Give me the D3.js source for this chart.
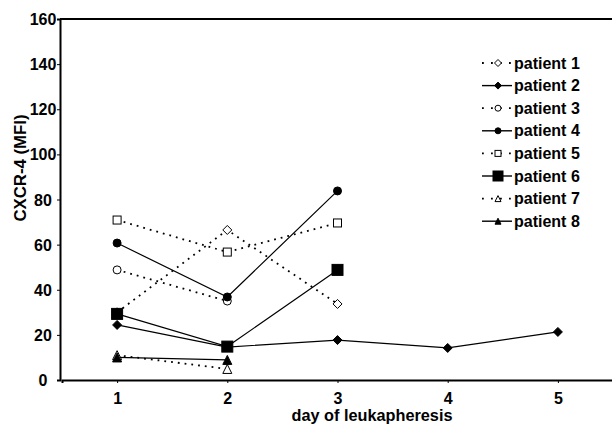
<!DOCTYPE html>
<html>
<head>
<meta charset="utf-8">
<script src="https://cdn.jsdelivr.net/npm/d3@7"></script>
<style>
  body { margin: 0; background: #fff; }
  text { font-family: "Liberation Sans", Arial, sans-serif; font-weight: bold; fill: #000; }
</style>
</head>
<body>
<div id="chart"></div>
<script>
// day of leukapheresis values per patient
var days = [1, 2, 3, 4, 5];
var patientNames = ["patient 1", "patient 2", "patient 3", "patient 4",
                    "patient 5", "patient 6", "patient 7", "patient 8"];
var patient1 = [30, 66.5, 33.7];
var patient2 = [24.4, 14.6, 17.7, 14.2, 21.3];
var patient3 = [48.8, 35];
var patient4 = [60.7, 36.8, 83.8];
var patient5 = [70.9, 56.7, 69.6];
var patient6 = [29.3, 14.8, 48.8];
var patient7 = [11, 4.9];
var patient8 = [10, 8.9];
var yTicks = [0, 20, 40, 60, 80, 100, 120, 140, 160];

// marker style per patient: shape, filled, dotted line
var styles = [
    {shape: "diamond", filled: false, dotted: true, size: 8},
    {shape: "diamond", filled: true, dotted: false, size: 8},
    {shape: "circle", filled: false, dotted: true, size: 8},
    {shape: "circle", filled: true, dotted: false, size: 8},
    {shape: "square", filled: false, dotted: true, size: 8},
    {shape: "square", filled: true, dotted: false, size: 11},
    {shape: "triangle", filled: false, dotted: true, size: 9},
    {shape: "triangle", filled: true, dotted: false, size: 9}
];

var series = [patient1, patient2, patient3, patient4, patient5, patient6, patient7, patient8];

var width = 612, height = 426;
var svg = d3.select("#chart").append("svg")
    .attr("width", width)
    .attr("height", height);

var x = d3.scaleLinear().domain([0.5, 5.5]).range([62, 613]);
var y = d3.scaleLinear().domain([0, 160]).range([380, 19]);

// axes
var yAxis = svg.append("g")
    .attr("transform", "translate(60,0)")
    .call(d3.axisLeft(y).tickValues(yTicks).tickFormat(d3.format("d")).tickSize(3).tickPadding(3));
var xAxis = svg.append("g")
    .attr("transform", "translate(0,380)")
    .call(d3.axisBottom(x).tickValues(days).tickFormat(d3.format("d")).tickSize(3).tickPadding(10));

[yAxis, xAxis].forEach(function(ax) {
    ax.select(".domain").attr("stroke", "#000").attr("stroke-width", 2);
    ax.selectAll(".tick line").attr("stroke", "#000").attr("stroke-width", 1);
    ax.selectAll(".tick text")
        .style("font-family", "'Liberation Sans', Arial, sans-serif")
        .style("font-weight", "bold")
        .style("font-size", "16px")
        .attr("fill", "#000");
});
// y labels are centred in their column
yAxis.selectAll(".tick text")
    .attr("x", -17)
    .attr("text-anchor", "middle")
    .attr("dy", "0.35em");

// top border
svg.append("line")
    .attr("x1", 60).attr("x2", 612)
    .attr("y1", 19).attr("y2", 19)
    .attr("stroke", "#000").attr("stroke-width", 2);

// axis titles
svg.append("text")
    .attr("transform", "translate(26,168) rotate(-90)")
    .attr("text-anchor", "middle")
    .style("font-size", "16px")
    .attr("textLength", 107)
    .attr("lengthAdjust", "spacingAndGlyphs")
    .text("CXCR-4 (MFI)");

svg.append("text")
    .attr("x", 372).attr("y", 421)
    .attr("text-anchor", "middle")
    .style("font-size", "16px")
    .attr("textLength", 161)
    .attr("lengthAdjust", "spacingAndGlyphs")
    .text("day of leukapheresis");

function drawMarker(g, st, cx, cy) {
    var fill = st.filled ? "#000" : "#fff";
    var s = st.size;
    if (st.shape === "circle") {
        g.append("circle").attr("cx", cx).attr("cy", cy).attr("r", s / 2)
            .attr("fill", fill).attr("stroke", "#000").attr("stroke-width", 1);
    } else if (st.shape === "square") {
        g.append("rect").attr("x", cx - s / 2).attr("y", cy - s / 2)
            .attr("width", s).attr("height", s)
            .attr("fill", fill).attr("stroke", "#000").attr("stroke-width", 1);
    } else if (st.shape === "diamond") {
        var h = s / 2 + 0.5;
        g.append("path")
            .attr("d", "M" + cx + "," + (cy - h) + "L" + (cx + h) + "," + cy +
                "L" + cx + "," + (cy + h) + "L" + (cx - h) + "," + cy + "Z")
            .attr("fill", fill).attr("stroke", "#000").attr("stroke-width", 1);
    } else if (st.shape === "triangle") {
        var t = s / 2;
        g.append("path")
            .attr("d", "M" + cx + "," + (cy - t) + "L" + (cx + t) + "," + (cy + t) +
                "L" + (cx - t) + "," + (cy + t) + "Z")
            .attr("fill", fill).attr("stroke", "#000").attr("stroke-width", 1);
    }
}

var line = d3.line()
    .x(function(d, i) { return x(days[i]); })
    .y(function(d) { return y(d); });

var plot = svg.append("g");

// lines first
series.forEach(function(vals, i) {
    plot.append("path")
        .datum(vals)
        .attr("d", line)
        .attr("fill", "none")
        .attr("stroke", "#000")
        .attr("stroke-width", styles[i].dotted ? 1.8 : 1.2)
        .attr("stroke-dasharray", styles[i].dotted ? "1.8,5" : null);
});

// markers
series.forEach(function(vals, i) {
    vals.forEach(function(v, j) {
        drawMarker(plot, styles[i], x(days[j]), y(v));
    });
});

// legend
var legend = svg.append("g").attr("transform", "translate(482,63)");
patientNames.forEach(function(name, i) {
    var row = legend.append("g").attr("transform", "translate(0," + (i * 22.6) + ")");
    var st = styles[i];
    if (st.dotted) {
        row.append("line").attr("x1", 0).attr("x2", 30).attr("y1", 0).attr("y2", 0)
            .attr("stroke", "#000").attr("stroke-width", 1.8)
            .attr("stroke-dasharray", "1.8,7.2");
    } else {
        row.append("line").attr("x1", 0).attr("x2", 30).attr("y1", 0).attr("y2", 0)
            .attr("stroke", "#000").attr("stroke-width", 1.4);
    }
    var small = {shape: st.shape, filled: st.filled, size: st.shape === "square" && st.filled ? 10 : 6};
    drawMarker(row, small, 16, 0);
    row.append("text")
        .attr("x", 32).attr("y", 0).attr("dy", "0.35em")
        .style("font-size", "16px")
        .text(name);
});
</script>
</body>
</html>
